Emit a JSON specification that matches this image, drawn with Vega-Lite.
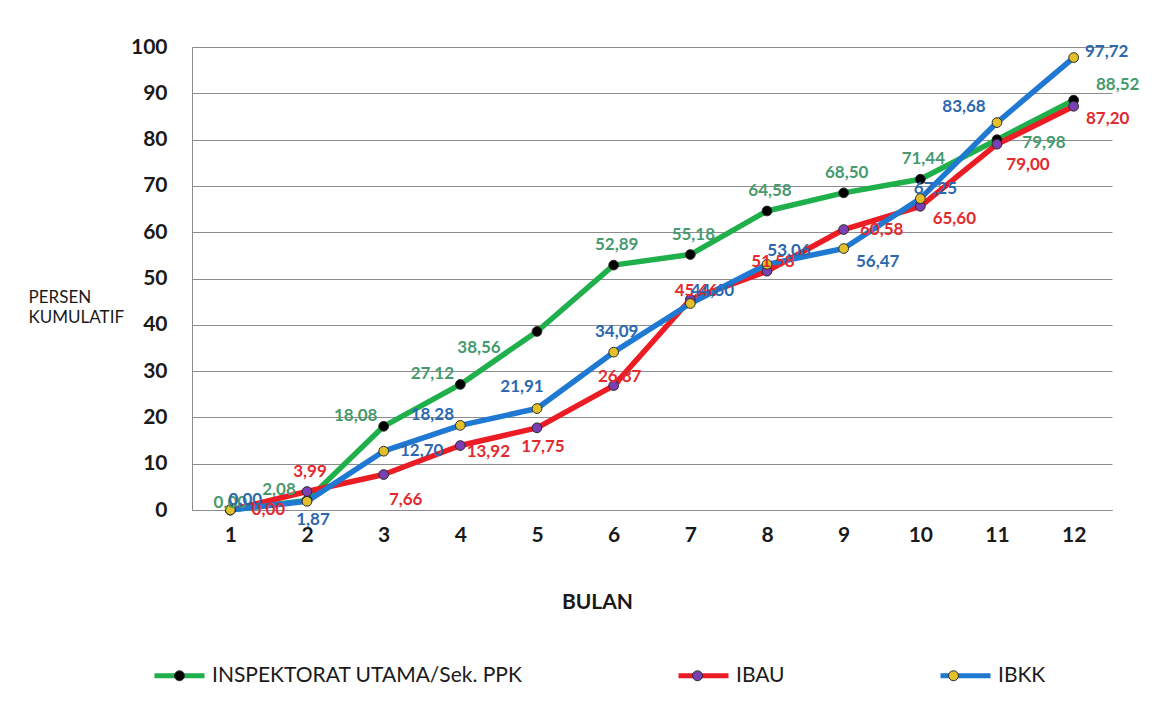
{
  "$schema": "https://vega.github.io/schema/vega-lite/v6.json",
  "autosize": {"type": "none"},
  "width": 920,
  "height": 463,
  "padding": {"left": 192, "top": 47, "right": 61, "bottom": 209},
  "background": "white",
  "data": {
    "values": [
      {"seri": "INSPEKTORAT UTAMA/Sek. PPK", "bulan": 1, "persen": 0.00},
      {"seri": "INSPEKTORAT UTAMA/Sek. PPK", "bulan": 2, "persen": 2.08},
      {"seri": "INSPEKTORAT UTAMA/Sek. PPK", "bulan": 3, "persen": 18.08},
      {"seri": "INSPEKTORAT UTAMA/Sek. PPK", "bulan": 4, "persen": 27.12},
      {"seri": "INSPEKTORAT UTAMA/Sek. PPK", "bulan": 5, "persen": 38.56},
      {"seri": "INSPEKTORAT UTAMA/Sek. PPK", "bulan": 6, "persen": 52.89},
      {"seri": "INSPEKTORAT UTAMA/Sek. PPK", "bulan": 7, "persen": 55.18},
      {"seri": "INSPEKTORAT UTAMA/Sek. PPK", "bulan": 8, "persen": 64.58},
      {"seri": "INSPEKTORAT UTAMA/Sek. PPK", "bulan": 9, "persen": 68.50},
      {"seri": "INSPEKTORAT UTAMA/Sek. PPK", "bulan": 10, "persen": 71.44},
      {"seri": "INSPEKTORAT UTAMA/Sek. PPK", "bulan": 11, "persen": 79.98},
      {"seri": "INSPEKTORAT UTAMA/Sek. PPK", "bulan": 12, "persen": 88.52},
      {"seri": "IBAU", "bulan": 1, "persen": 0.00},
      {"seri": "IBAU", "bulan": 2, "persen": 3.99},
      {"seri": "IBAU", "bulan": 3, "persen": 7.66},
      {"seri": "IBAU", "bulan": 4, "persen": 13.92},
      {"seri": "IBAU", "bulan": 5, "persen": 17.75},
      {"seri": "IBAU", "bulan": 6, "persen": 26.87},
      {"seri": "IBAU", "bulan": 7, "persen": 45.46},
      {"seri": "IBAU", "bulan": 8, "persen": 51.58},
      {"seri": "IBAU", "bulan": 9, "persen": 60.58},
      {"seri": "IBAU", "bulan": 10, "persen": 65.60},
      {"seri": "IBAU", "bulan": 11, "persen": 79.00},
      {"seri": "IBAU", "bulan": 12, "persen": 87.20},
      {"seri": "IBKK", "bulan": 1, "persen": 0.00},
      {"seri": "IBKK", "bulan": 2, "persen": 1.87},
      {"seri": "IBKK", "bulan": 3, "persen": 12.70},
      {"seri": "IBKK", "bulan": 4, "persen": 18.28},
      {"seri": "IBKK", "bulan": 5, "persen": 21.91},
      {"seri": "IBKK", "bulan": 6, "persen": 34.09},
      {"seri": "IBKK", "bulan": 7, "persen": 44.60},
      {"seri": "IBKK", "bulan": 8, "persen": 53.06},
      {"seri": "IBKK", "bulan": 9, "persen": 56.47},
      {"seri": "IBKK", "bulan": 10, "persen": 67.25},
      {"seri": "IBKK", "bulan": 11, "persen": 83.68},
      {"seri": "IBKK", "bulan": 12, "persen": 97.72}
    ]
  },
  "encoding": {
    "x": {
      "field": "bulan",
      "type": "ordinal",
      "scale": {"type": "point", "padding": 0.5},
      "axis": {
        "title": "BULAN",
        "labelAngle": 0,
        "labelPadding": 14,
        "grid": false,
        "titleX": 405,
        "titleY": 98,
        "titleAlign": "center",
        "titleBaseline": "alphabetic",
        "titleFontWeight": "bold",
        "titleFontSize": 21
      }
    },
    "y": {
      "field": "persen",
      "type": "quantitative",
      "scale": {"domain": [0, 100], "nice": false},
      "axis": {
        "title": ["PERSEN", "KUMULATIF"],
        "values": [0, 10, 20, 30, 40, 50, 60, 70, 80, 90, 100],
        "grid": true,
        "labelPadding": 25,
        "titleAngle": 0,
        "titleAlign": "left",
        "titleBaseline": "alphabetic",
        "titleX": -164,
        "titleY": 255,
        "titleFontWeight": "normal",
        "titleFontSize": 17,
        "titleLineHeight": 20
      }
    }
  },
  "layer": [
    {
      "mark": {"type": "line", "strokeWidth": 5.5, "strokeJoin": "round", "strokeCap": "round"},
      "encoding": {
        "color": {
          "field": "seri",
          "type": "nominal",
          "scale": {
            "domain": ["INSPEKTORAT UTAMA/Sek. PPK", "IBAU", "IBKK"],
            "range": ["#1FAF4B", "#EC1C24", "#1F78D1"]
          },
          "legend": {
            "title": null,
            "orient": "none",
            "legendX": -40,
            "legendY": 601,
            "direction": "horizontal",
            "symbolType": "stroke",
            "symbolSize": 2500,
            "symbolStrokeWidth": 5,
            "labelOffset": 5,
            "columnPadding": 145,
            "padding": 0,
            "labelLimit": 500
          }
        }
      }
    },
    {
      "mark": {"type": "point", "filled": true, "size": 95, "stroke": "#2b2b2b", "strokeWidth": 1, "opacity": 1},
      "encoding": {
        "fill": {
          "field": "seri",
          "type": "nominal",
          "scale": {
            "domain": ["IBKK", "IBAU", "INSPEKTORAT UTAMA/Sek. PPK"],
            "range": ["#E3C02A", "#7A3FB5", "#000000"]
          },
          "legend": {
            "title": null,
            "values": ["INSPEKTORAT UTAMA/Sek. PPK", "IBAU", "IBKK"],
            "orient": "none",
            "legendX": -40,
            "legendY": 601,
            "direction": "horizontal",
            "symbolType": "M-1,0L-1,0M1,0L1,0M0.185,0L0.1709,0.0708L0.1308,0.1308L0.0708,0.1709L0,0.185L-0.0708,0.1709L-0.1308,0.1308L-0.1709,0.0708L-0.185,0L-0.1709,-0.0708L-0.1308,-0.1308L-0.0708,-0.1709L0,-0.185L0.0708,-0.1709L0.1308,-0.1308L0.1709,-0.0708Z",
            "symbolSize": 2916,
            "symbolStrokeColor": "#2b2b2b",
            "symbolStrokeWidth": 1,
            "symbolOpacity": 1,
            "labelOpacity": 0,
            "labelOffset": 5,
            "columnPadding": 145,
            "padding": 0,
            "labelLimit": 500
          }
        }
      }
    },
    {
      "encoding": {
        "text": {"field": "persen", "type": "quantitative", "format": ".2f"},
        "color": {
          "condition": [
            {"test": "datum.seri == 'IBAU'", "value": "#E22A2F"},
            {"test": "datum.seri == 'IBKK'", "value": "#2B68B0"}
          ],
          "value": "#469A6E"
        }
      },
      "layer": [
        {
          "transform": [{"filter": "(datum.seri == 'INSPEKTORAT UTAMA/Sek. PPK' && indexof([6, 7, 8, 9, 10], datum.bulan) >= 0) || (datum.seri == 'IBAU' && datum.bulan == 2) || (datum.seri == 'IBKK' && datum.bulan == 6)"}],
          "mark": {"type": "text", "dx": 3, "dy": -20}
        },
        {
          "transform": [{"filter": "(datum.seri == 'INSPEKTORAT UTAMA/Sek. PPK' && indexof([2, 3, 4], datum.bulan) >= 0) || (datum.seri == 'IBKK' && datum.bulan == 4)"}],
          "mark": {"type": "text", "dx": -28, "dy": -10}
        },
        {
          "transform": [{"filter": "datum.seri == 'INSPEKTORAT UTAMA/Sek. PPK' && datum.bulan == 5"}],
          "mark": {"type": "text", "dx": -58, "dy": 17}
        },
        {
          "transform": [{"filter": "datum.seri == 'INSPEKTORAT UTAMA/Sek. PPK' && datum.bulan == 1"}],
          "mark": {"type": "text", "dx": 0, "dy": -7}
        },
        {
          "transform": [{"filter": "datum.seri == 'INSPEKTORAT UTAMA/Sek. PPK' && datum.bulan == 11"}],
          "mark": {"type": "text", "dx": 47, "dy": 3}
        },
        {
          "transform": [{"filter": "datum.seri == 'INSPEKTORAT UTAMA/Sek. PPK' && datum.bulan == 12"}],
          "mark": {"type": "text", "dx": 44, "dy": -15}
        },
        {
          "transform": [{"filter": "(datum.seri == 'IBAU' && indexof([1, 9], datum.bulan) >= 0) || (datum.seri == 'IBKK' && datum.bulan == 3)"}],
          "mark": {"type": "text", "dx": 38, "dy": 0}
        },
        {
          "transform": [{"filter": "datum.seri == 'IBAU' && datum.bulan == 3"}],
          "mark": {"type": "text", "dx": 22, "dy": 25}
        },
        {
          "transform": [{"filter": "datum.seri == 'IBAU' && datum.bulan == 4"}],
          "mark": {"type": "text", "dx": 28, "dy": 6}
        },
        {
          "transform": [{"filter": "(datum.seri == 'IBAU' && datum.bulan == 5) || (datum.seri == 'IBKK' && datum.bulan == 2)"}],
          "mark": {"type": "text", "dx": 6, "dy": 19}
        },
        {
          "transform": [{"filter": "datum.seri == 'IBAU' && indexof([6, 7, 8], datum.bulan) >= 0"}],
          "mark": {"type": "text", "dx": 6, "dy": -9}
        },
        {
          "transform": [{"filter": "(datum.seri == 'IBAU' && indexof([10, 12], datum.bulan) >= 0) || (datum.seri == 'IBKK' && datum.bulan == 9)"}],
          "mark": {"type": "text", "dx": 34, "dy": 13}
        },
        {
          "transform": [{"filter": "datum.seri == 'IBAU' && datum.bulan == 11"}],
          "mark": {"type": "text", "dx": 31, "dy": 21}
        },
        {
          "transform": [{"filter": "datum.seri == 'IBKK' && indexof([1, 10], datum.bulan) >= 0"}],
          "mark": {"type": "text", "dx": 15, "dy": -10}
        },
        {
          "transform": [{"filter": "datum.seri == 'IBKK' && datum.bulan == 5"}],
          "mark": {"type": "text", "dx": -15, "dy": -22}
        },
        {
          "transform": [{"filter": "datum.seri == 'IBKK' && indexof([7, 8], datum.bulan) >= 0"}],
          "mark": {"type": "text", "dx": 22, "dy": -13}
        },
        {
          "transform": [{"filter": "datum.seri == 'IBKK' && datum.bulan == 11"}],
          "mark": {"type": "text", "dx": -33, "dy": -16}
        },
        {
          "transform": [{"filter": "datum.seri == 'IBKK' && datum.bulan == 12"}],
          "mark": {"type": "text", "dx": 33, "dy": -6}
        }
      ]
    }
  ],
  "config": {
    "locale": {"number": {"decimal": ",", "thousands": ".", "grouping": [3], "currency": ["", ""]}},
    "view": {"stroke": null},
    "font": "Lato",
    "text": {"font": "Lato", "fontSize": 17, "fontWeight": "bold", "align": "center", "baseline": "middle"},
    "axis": {
      "domainColor": "#8c8c8c",
      "domainWidth": 1,
      "gridColor": "#8c8c8c",
      "gridWidth": 1,
      "ticks": false,
      "tickSize": 0,
      "labelFont": "Lato",
      "labelFontSize": 21,
      "labelFontWeight": "bold",
      "labelColor": "#1a1a1a",
      "titleFont": "Lato",
      "titleColor": "#1a1a1a"
    },
    "legend": {
      "labelFont": "Lato",
      "labelFontSize": 21,
      "labelColor": "#1a1a1a"
    }
  }
}
